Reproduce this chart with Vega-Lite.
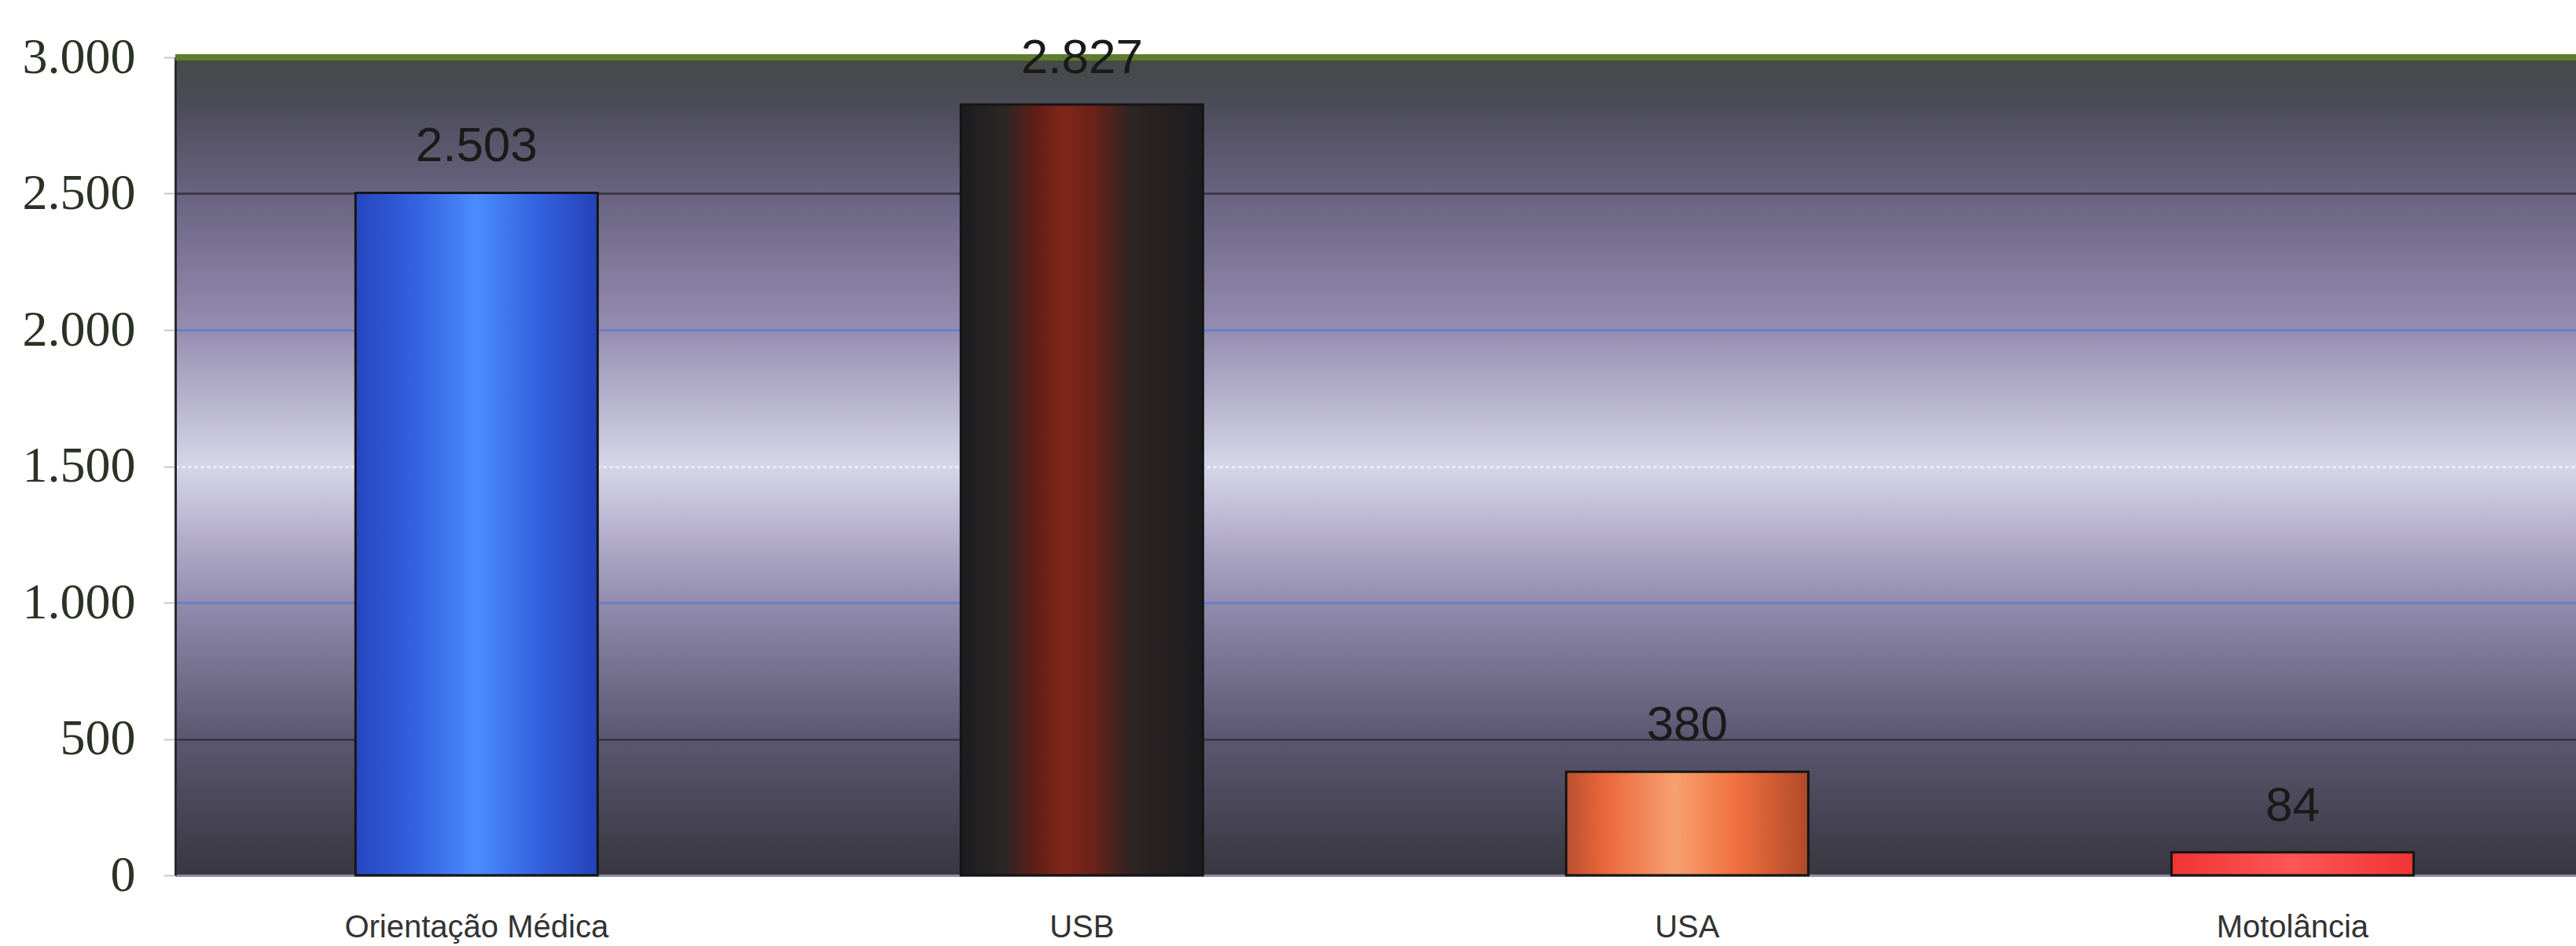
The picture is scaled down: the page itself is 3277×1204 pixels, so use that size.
{
  "$schema": "https://vega.github.io/schema/vega-lite/v6.json",
  "width": 3054,
  "height": 1041,
  "autosize": {"type": "none"},
  "padding": {"left": 223, "top": 73, "right": 0, "bottom": 90},
  "background": "white",
  "config": {
    "locale": {"number": {"decimal": ",", "thousands": ".", "grouping": [3], "currency": ["R$", ""]}},
    "view": {
      "stroke": null,
      "fill": {
        "gradient": "linear", "x1": 0, "y1": 0, "x2": 0, "y2": 1,
        "stops": [
          {"offset": 0, "color": "#464a44"},
          {"offset": 0.05, "color": "#4a4a56"},
          {"offset": 0.17, "color": "#6a6482"},
          {"offset": 0.33, "color": "#948cb0"},
          {"offset": 0.5, "color": "#d6d6e8"},
          {"offset": 0.58, "color": "#b6b0ce"},
          {"offset": 0.67, "color": "#908aac"},
          {"offset": 0.83, "color": "#5c5872"},
          {"offset": 1, "color": "#38363f"}
        ]
      }
    }
  },
  "data": {
    "values": [
      {"cat": "Orientação Médica", "v": 2503},
      {"cat": "USB", "v": 2827},
      {"cat": "USA", "v": 380},
      {"cat": "Motolância", "v": 84}
    ]
  },
  "layer": [
    {
      "transform": [{"filter": "datum.cat === 'Orientação Médica'"}],
      "mark": {
        "type": "bar", "stroke": "#151515", "strokeWidth": 3,
        "fill": {
          "gradient": "linear", "x1": 0, "y1": 0, "x2": 1, "y2": 0,
          "stops": [
            {"offset": 0, "color": "#2646c0"},
            {"offset": 0.25, "color": "#3462e0"},
            {"offset": 0.5, "color": "#4a8cff"},
            {"offset": 0.75, "color": "#3462e0"},
            {"offset": 1, "color": "#2442b8"}
          ]
        }
      },
      "encoding": {
        "x": {
          "field": "cat", "type": "nominal", "sort": null,
          "scale": {"domain": ["Orientação Médica", "USB", "USA", "Motolância"], "paddingInner": 0.6, "paddingOuter": 0.283, "align": 0.526},
          "axis": {
            "title": null, "labelAngle": 0, "labelFont": "Liberation Sans", "labelFontSize": 40, "labelLimit": 0,
            "labelColor": "#333333", "labelPadding": 46, "ticks": false, "domain": false, "grid": false
          }
        },
        "y": {
          "field": "v", "type": "quantitative",
          "scale": {"domain": [0, 3000], "nice": false},
          "axis": {
            "title": null, "values": [0, 500, 1000, 1500, 2000, 2500, 3000], "format": ",d",
            "labelFont": "Liberation Serif", "labelFontSize": 64, "labelColor": "#2b3324",
            "labelPadding": 36, "ticks": true, "tickSize": 15, "tickColor": "#c8c8c8", "tickWidth": 2,
            "domain": true, "domainColor": "#2a2a32", "domainWidth": 3,
            "grid": true, "gridWidth": 3,
            "gridColor": {
              "condition": [
                {"test": "datum.value === 1500", "value": "#eeeef8"},
                {"test": "datum.value === 1000 || datum.value === 2000", "value": "#6a7ec8"},
                {"test": "datum.value === 0", "value": "#8a88a8"}
              ],
              "value": "#3a3848"
            },
            "gridDash": {"condition": {"test": "datum.value === 1500", "value": [4, 4]}, "value": []}
          }
        }
      }
    },
    {
      "transform": [{"filter": "datum.cat === 'USB'"}],
      "mark": {
        "type": "bar", "stroke": "#151515", "strokeWidth": 3,
        "fill": {
          "gradient": "linear", "x1": 0, "y1": 0, "x2": 1, "y2": 0,
          "stops": [
            {"offset": 0, "color": "#1c1c1e"},
            {"offset": 0.18, "color": "#2a2626"},
            {"offset": 0.3, "color": "#5e1e16"},
            {"offset": 0.42, "color": "#82261a"},
            {"offset": 0.55, "color": "#6a2218"},
            {"offset": 0.7, "color": "#2e2424"},
            {"offset": 1, "color": "#1c1c1e"}
          ]
        }
      },
      "encoding": {
        "x": {"field": "cat", "type": "nominal", "sort": null},
        "y": {"field": "v", "type": "quantitative"}
      }
    },
    {
      "transform": [{"filter": "datum.cat === 'USA'"}],
      "mark": {
        "type": "bar", "stroke": "#151515", "strokeWidth": 3,
        "fill": {
          "gradient": "linear", "x1": 0, "y1": 0, "x2": 1, "y2": 0,
          "stops": [
            {"offset": 0, "color": "#b85030"},
            {"offset": 0.15, "color": "#e8653a"},
            {"offset": 0.45, "color": "#f8a070"},
            {"offset": 0.7, "color": "#f0703e"},
            {"offset": 1, "color": "#b04a2a"}
          ]
        }
      },
      "encoding": {
        "x": {"field": "cat", "type": "nominal", "sort": null},
        "y": {"field": "v", "type": "quantitative"}
      }
    },
    {
      "transform": [{"filter": "datum.cat === 'Motolância'"}],
      "mark": {
        "type": "bar", "stroke": "#151515", "strokeWidth": 3,
        "fill": {
          "gradient": "linear", "x1": 0, "y1": 0, "x2": 1, "y2": 0,
          "stops": [
            {"offset": 0, "color": "#f03434"},
            {"offset": 0.5, "color": "#ff5656"},
            {"offset": 1, "color": "#f03434"}
          ]
        }
      },
      "encoding": {
        "x": {"field": "cat", "type": "nominal", "sort": null},
        "y": {"field": "v", "type": "quantitative"}
      }
    },
    {
      "mark": {"type": "rule", "color": "#5e7d2c", "strokeWidth": 8},
      "encoding": {"y": {"datum": 3000, "type": "quantitative"}}
    },
    {
      "mark": {
        "type": "text", "font": "Liberation Sans", "fontSize": 62,
        "color": "#1a1a1a", "baseline": "alphabetic", "dy": -40
      },
      "encoding": {
        "x": {"field": "cat", "type": "nominal", "sort": null},
        "y": {"field": "v", "type": "quantitative"},
        "text": {"field": "v", "type": "quantitative", "format": ",d"}
      }
    }
  ]
}
